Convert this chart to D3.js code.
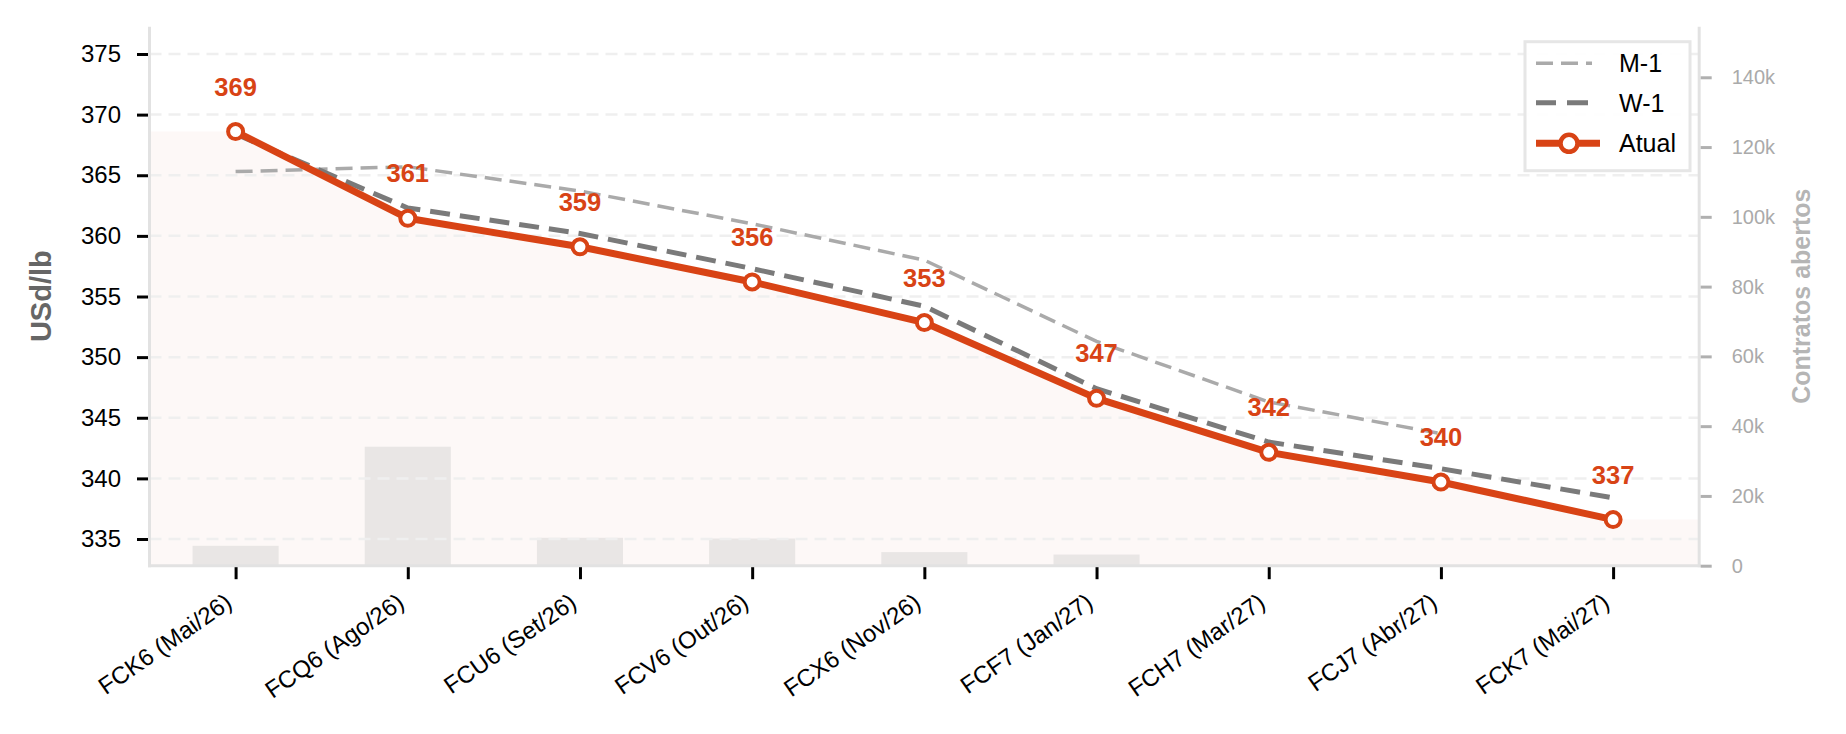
<!DOCTYPE html>
<html>
<head>
<meta charset="utf-8">
<script src="https://cdn.jsdelivr.net/npm/d3@7"></script>
<style>
  body { margin: 0; background: white; }
  text { font-family: "Liberation Sans", Arial, sans-serif; }
</style>
</head>
<body>
<div id="container"></div>
<script>
let w = 1846;
let h = 734;

// DATA
let contracts = ["FCK6 (Mai/26)", "FCQ6 (Ago/26)", "FCU6 (Set/26)", "FCV6 (Out/26)", "FCX6 (Nov/26)",
                 "FCF7 (Jan/27)", "FCH7 (Mar/27)", "FCJ7 (Abr/27)", "FCK7 (Mai/27)"];
let atual = [368.6, 361.45, 359.1, 356.2, 352.85, 346.6, 342.15, 339.7, 336.6];
let weekAgo = [368.4, 362.3, 360.2, 357.3, 354.2, 347.4, 343.0, 340.8, 338.4];
let monthAgo = [365.3, 365.7, 363.7, 361.0, 358.0, 351.3, 346.3, 343.7, null];
let openInterest = [5700, 34100, 8000, 7800, 3900, 3200, 0, 0, 0];
let priceTicks = [335, 340, 345, 350, 355, 360, 365, 370, 375];
let oiTicks = [0, 20000, 40000, 60000, 80000, 100000, 120000, 140000];

let red = "#d84315";

// plot box
let plotLeft = 149.5, plotRight = 1699.2, plotTop = 26.7, plotBottom = 565.7;

let viz = d3.select("#container").append("svg")
    .attr("width", w)
    .attr("height", h)
    .style("background-color", "white");

// SCALES
let xScale = d3.scaleLinear().domain([-0.5, contracts.length - 0.5]).range([plotLeft, plotRight]);
let yScale = d3.scaleLinear().domain([332.8, 377.25]).range([plotBottom, plotTop]);
let oiScale = d3.scaleLinear().domain([0, 154500]).range([plotBottom, plotTop]);
let band = xScale(1) - xScale(0);

// pale fill under the current curve, stretched to both spines
let fillPts = [[-0.5, atual[0]]].concat(atual.map(function(d, i){ return [i, d]; }))
    .concat([[contracts.length - 0.5, atual[atual.length - 1]]]);
let areaMaker = d3.area()
    .x(function(d){ return xScale(d[0]); })
    .y0(plotBottom)
    .y1(function(d){ return yScale(d[1]); });
viz.append("path")
    .attr("d", areaMaker(fillPts))
    .attr("fill", "#fdf8f7");

// open interest bars (right axis)
viz.selectAll(".oiBar").data(openInterest).enter()
  .append("rect")
    .attr("class", "oiBar")
    .attr("x", function(d, i){ return xScale(i) - band * 0.25; })
    .attr("width", band * 0.5)
    .attr("y", function(d){ return oiScale(d); })
    .attr("height", function(d){ return plotBottom - oiScale(d); })
    .attr("fill", "#e9e6e5");

// horizontal grid
viz.selectAll(".grid").data(priceTicks).enter()
  .append("line")
    .attr("class", "grid")
    .attr("x1", plotLeft).attr("x2", plotRight)
    .attr("y1", function(d){ return yScale(d); })
    .attr("y2", function(d){ return yScale(d); })
    .attr("stroke", "#efefef")
    .attr("stroke-width", 2.5)
    .attr("stroke-dasharray", "12,7");

// LINES
let lineMaker = d3.line()
    .defined(function(d){ return d != null; })
    .x(function(d, i){ return xScale(i); })
    .y(function(d){ return yScale(d); });

viz.append("path")
    .attr("d", lineMaker(monthAgo))
    .attr("fill", "none")
    .attr("stroke", "#aaaaaa")
    .attr("stroke-width", 3.5)
    .attr("stroke-dasharray", "17,8");

viz.append("path")
    .attr("d", lineMaker(weekAgo))
    .attr("fill", "none")
    .attr("stroke", "#7a7a7a")
    .attr("stroke-width", 5)
    .attr("stroke-dasharray", "20,10");

viz.append("path")
    .attr("d", lineMaker(atual))
    .attr("fill", "none")
    .attr("stroke", red)
    .attr("stroke-width", 7)
    .attr("stroke-linejoin", "round");

viz.selectAll(".dot").data(atual).enter()
  .append("circle")
    .attr("class", "dot")
    .attr("cx", function(d, i){ return xScale(i); })
    .attr("cy", function(d){ return yScale(d); })
    .attr("r", 7.5)
    .attr("fill", "white")
    .attr("stroke", red)
    .attr("stroke-width", 4);

// value labels
viz.selectAll(".valLabel").data(atual).enter()
  .append("text")
    .attr("class", "valLabel")
    .attr("x", function(d, i){ return xScale(i); })
    .attr("y", function(d){ return yScale(d) - 36; })
    .attr("text-anchor", "middle")
    .attr("font-size", 25.5)
    .attr("font-weight", "bold")
    .attr("fill", red)
    .text(function(d){ return d3.format(".0f")(d); });

// SPINES
let spineColor = "#e2e2e2";
viz.append("line").attr("x1", plotLeft).attr("x2", plotLeft).attr("y1", plotTop).attr("y2", plotBottom + 1.5)
    .attr("stroke", spineColor).attr("stroke-width", 3);
viz.append("line").attr("x1", plotRight).attr("x2", plotRight).attr("y1", plotTop).attr("y2", plotBottom + 1.5)
    .attr("stroke", spineColor).attr("stroke-width", 3);
viz.append("line").attr("x1", plotLeft - 1.5).attr("x2", plotRight + 1.5).attr("y1", plotBottom).attr("y2", plotBottom)
    .attr("stroke", spineColor).attr("stroke-width", 3);

// AXES
let yAxis = d3.axisLeft(yScale).tickValues(priceTicks).tickSize(11).tickPadding(16);
let yAxisGroup = viz.append("g").attr("transform", "translate(" + (plotLeft - 1.5) + ",0)").call(yAxis);
yAxisGroup.select(".domain").remove();
yAxisGroup.selectAll("line").attr("stroke", "black").attr("stroke-width", 3);
yAxisGroup.selectAll("text").attr("font-size", 24).attr("fill", "black")
    .attr("font-family", "Liberation Sans, Arial, sans-serif");

let xAxis = d3.axisBottom(xScale).tickValues(d3.range(contracts.length)).tickSize(12).tickFormat("");
let xAxisGroup = viz.append("g").attr("transform", "translate(0," + (plotBottom + 1.5) + ")").call(xAxis);
xAxisGroup.select(".domain").remove();
xAxisGroup.selectAll("line").attr("stroke", "black").attr("stroke-width", 3);

viz.selectAll(".xLabel").data(contracts).enter()
  .append("text")
    .attr("class", "xLabel")
    .attr("transform", function(d, i){ return "translate(" + (xScale(i) - 2) + "," + 606 + ") rotate(-35)"; })
    .attr("text-anchor", "end")
    .attr("font-size", 24)
    .attr("fill", "black")
    .text(function(d){ return d; });

let oiAxis = d3.axisRight(oiScale).tickValues(oiTicks).tickSize(11).tickPadding(20)
    .tickFormat(function(d){ return d == 0 ? "0" : (d / 1000) + "k"; });
let oiAxisGroup = viz.append("g").attr("transform", "translate(" + (plotRight + 1.5) + ",0)").call(oiAxis);
oiAxisGroup.select(".domain").remove();
oiAxisGroup.selectAll("line").attr("stroke", "#b0b0b0").attr("stroke-width", 3);
oiAxisGroup.selectAll("text").attr("font-size", 20).attr("fill", "#aaaaaa")
    .attr("font-family", "Liberation Sans, Arial, sans-serif");

// axis titles
viz.append("text")
    .attr("transform", "translate(51," + ((plotTop + plotBottom) / 2) + ") rotate(-90)")
    .attr("text-anchor", "middle")
    .attr("font-size", 29)
    .attr("font-weight", "bold")
    .attr("fill", "#666666")
    .text("USd/lb");

viz.append("text")
    .attr("transform", "translate(1810," + ((plotTop + plotBottom) / 2) + ") rotate(-90)")
    .attr("text-anchor", "middle")
    .attr("font-size", 25)
    .attr("font-weight", "bold")
    .attr("fill", "#b5b5b5")
    .text("Contratos abertos");

// LEGEND
let legend = viz.append("g").attr("transform", "translate(3,0)");
legend.append("rect")
    .attr("x", 1522).attr("y", 41.7).attr("width", 165).attr("height", 129)
    .attr("fill", "white").attr("fill-opacity", 0.9)
    .attr("stroke", "#e6e6e6").attr("stroke-width", 3);

let legendItems = [
  { name: "M-1", color: "#aaaaaa", width: 3.5, dash: "17,8,17,8,6,100", marker: false },
  { name: "W-1", color: "#7a7a7a", width: 5, dash: "20,11,21,100", marker: false },
  { name: "Atual", color: red, width: 7, dash: null, marker: true }
];
let legendY = [63.3, 102.7, 143.3];
legendItems.forEach(function(item, i){
  legend.append("line")
    .attr("x1", 1533).attr("x2", 1597)
    .attr("y1", legendY[i]).attr("y2", legendY[i])
    .attr("stroke", item.color)
    .attr("stroke-width", item.width)
    .attr("stroke-dasharray", item.dash);
  if(item.marker){
    legend.append("circle")
      .attr("cx", 1566).attr("cy", legendY[i]).attr("r", 8.5)
      .attr("fill", "white").attr("stroke", item.color).attr("stroke-width", 4.5);
  }
  legend.append("text")
    .attr("x", 1616).attr("y", legendY[i])
    .attr("dy", "0.36em")
    .attr("font-size", 25)
    .attr("fill", "black")
    .text(item.name);
});
</script>
</body>
</html>
